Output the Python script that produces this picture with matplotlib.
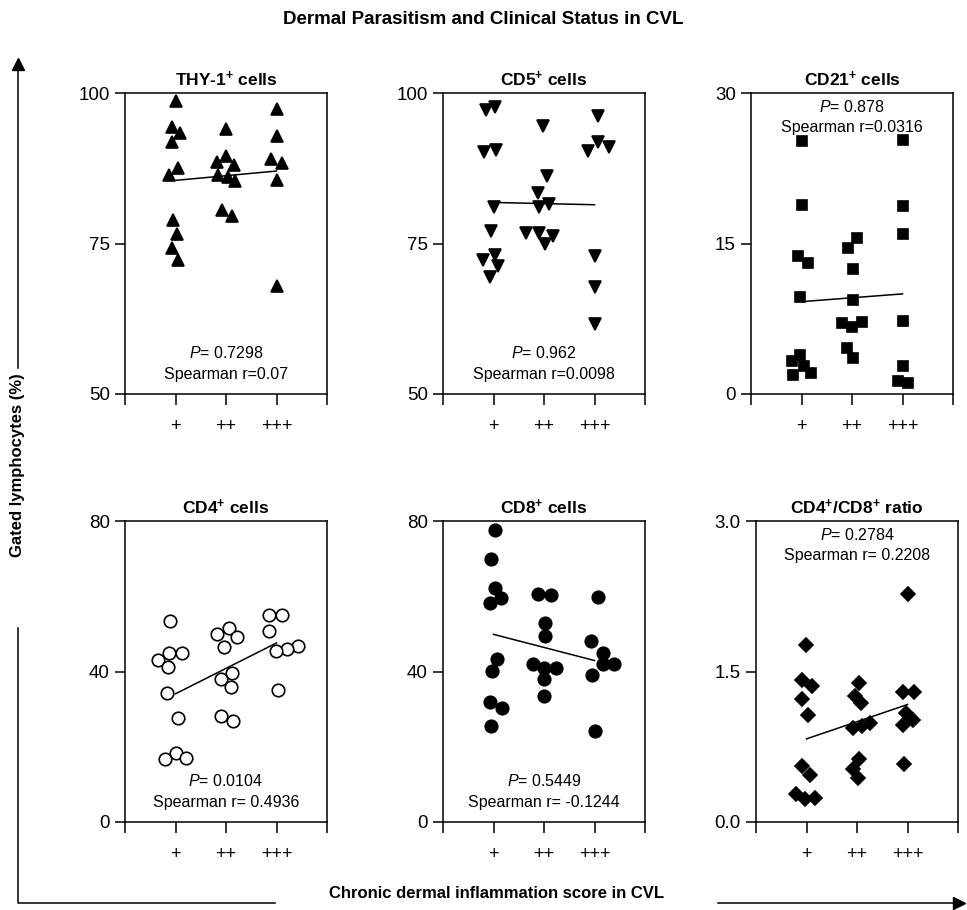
import numpy as np
import matplotlib
matplotlib.use("Agg")
import matplotlib.pyplot as plt
from matplotlib.lines import Line2D

plt.rcParams['font.family'] = ['Liberation Sans', 'DejaVu Sans']
plt.rcParams['mathtext.fontset'] = 'custom'
plt.rcParams['mathtext.rm'] = 'Liberation Sans'
plt.rcParams['mathtext.it'] = 'Liberation Sans:italic'
plt.rcParams['mathtext.bf'] = 'Liberation Sans:bold'

## data: category (1=+, 2=++, 3=+++), x position as drawn, value
score_labels = ['', '+', '++', '+++', '']

thy1_grp = [1]*10 + [2]*9 + [3]*6
thy1_x = [1.0, 0.93, 1.09, 0.93, 1.05, 0.87, 0.96, 1.03, 0.93, 1.04,
          2.0, 1.82, 2.0, 2.15, 1.84, 2.03, 2.17, 1.92, 2.11,
          3.0, 3.0, 2.89, 3.10, 3.0, 3.0]
thy1_y = [98.6, 94.4, 93.3, 91.9, 87.5, 86.4, 78.9, 76.6, 74.2, 72.2,
          94.1, 88.6, 89.5, 88.0, 86.4, 86.0, 85.3, 80.6, 79.5,
          97.4, 92.9, 89.1, 88.4, 85.6, 68.0]

cd5_grp = [1]*10 + [2]*9 + [3]*7
cd5_x = [0.85, 1.03, 0.82, 1.05, 1.0, 0.95, 1.02, 0.79, 1.09, 0.93,
         1.98, 2.05, 1.89, 1.91, 2.10, 1.64, 1.90, 2.18, 2.01,
         3.07, 3.07, 2.88, 3.29, 3.0, 3.0, 3.0]
cd5_y = [97.1, 97.6, 90.2, 90.5, 81.1, 77.0, 73.1, 72.3, 71.3, 69.5,
         94.6, 86.2, 83.4, 81.1, 81.5, 76.8, 76.7, 76.3, 75.0,
         96.1, 91.9, 90.3, 91.0, 73.0, 67.7, 61.6]

cd21_grp = [1]*10 + [2]*9 + [3]*7
cd21_x = [1.0, 1.0, 0.93, 1.12, 0.97, 0.97, 0.81, 1.05, 1.19, 0.83,
          2.09, 1.93, 2.01, 2.02, 1.81, 2.0, 2.19, 1.90, 2.02,
          3.0, 3.0, 3.0, 3.0, 3.0, 2.92, 3.11]
cd21_y = [25.2, 18.8, 13.8, 13.1, 9.7, 3.9, 3.3, 2.8, 2.1, 1.9,
          15.5, 14.6, 12.5, 9.4, 7.1, 6.7, 7.2, 4.6, 3.6,
          25.3, 18.7, 15.9, 7.3, 2.8, 1.3, 1.1]

cd4_grp = [1]*10 + [2]*9 + [3]*7
cd4_x = [0.89, 0.87, 1.13, 0.65, 0.85, 0.83, 1.04, 1.0, 0.79, 1.21,
         2.05, 1.83, 2.21, 1.97, 2.12, 1.90, 2.10, 1.90, 2.13,
         2.86, 3.11, 2.86, 3.43, 3.21, 2.99, 3.03]
cd4_y = [53.4, 45.0, 45.0, 43.0, 41.1, 34.3, 27.7, 18.4, 16.8, 17.1,
         51.6, 49.9, 49.2, 46.4, 39.5, 37.9, 35.8, 28.1, 26.9,
         55.1, 55.0, 50.7, 46.8, 46.0, 45.4, 35.2]

cd8_grp = [1]*10 + [2]*9 + [3]*7
cd8_x = [1.03, 0.95, 1.02, 1.15, 0.93, 1.06, 0.98, 0.94, 1.17, 0.95,
         1.89, 2.13, 2.01, 2.01, 1.78, 2.0, 2.23, 2.0, 2.0,
         3.07, 2.93, 3.17, 3.17, 3.39, 2.95, 3.01]
cd8_y = [77.7, 70.0, 62.1, 59.6, 58.1, 43.2, 40.2, 31.8, 30.2, 25.4,
         60.6, 60.2, 52.9, 49.4, 41.9, 41.0, 40.8, 38.0, 33.6,
         59.8, 48.0, 45.0, 42.0, 42.0, 39.0, 24.2]

ratio_grp = [1]*10 + [2]*9 + [3]*7
ratio_x = [0.99, 0.92, 1.10, 0.92, 1.02, 0.92, 1.07, 0.80, 0.97, 1.17,
           2.04, 1.97, 2.08, 2.26, 2.10, 1.93, 2.04, 1.92, 2.02,
           3.01, 2.92, 3.13, 2.97, 3.11, 2.91, 2.94]
ratio_y = [1.76, 1.42, 1.36, 1.23, 1.07, 0.56, 0.47, 0.28, 0.23, 0.24,
           1.39, 1.26, 1.19, 0.99, 0.96, 0.94, 0.63, 0.53, 0.44,
           2.27, 1.30, 1.30, 1.09, 1.02, 0.97, 0.58]

panels = [
    # title, group, x, y, marker, filled, ylim, yticks, fmt, stats, stats at top
    (r'THY-1$^{\mathbf{+}}$ cells', thy1_grp, thy1_x, thy1_y, '^', True,
     (50, 100), [50, 75, 100], '%d', ('0.7298', 'r=0.07'), False),
    (r'CD5$^{\mathbf{+}}$ cells', cd5_grp, cd5_x, cd5_y, 'v', True,
     (50, 100), [50, 75, 100], '%d', ('0.962', 'r=0.0098'), False),
    (r'CD21$^{\mathbf{+}}$ cells', cd21_grp, cd21_x, cd21_y, 's', True,
     (0, 30), [0, 15, 30], '%d', ('0.878', 'r=0.0316'), True),
    (r'CD4$^{\mathbf{+}}$ cells', cd4_grp, cd4_x, cd4_y, 'o', False,
     (0, 80), [0, 40, 80], '%d', ('0.0104', 'r= 0.4936'), False),
    (r'CD8$^{\mathbf{+}}$ cells', cd8_grp, cd8_x, cd8_y, 'o', True,
     (0, 80), [0, 40, 80], '%d', ('0.5449', 'r= -0.1244'), False),
    (r'CD4$^{\mathbf{+}}$/CD8$^{\mathbf{+}}$ ratio', ratio_grp, ratio_x, ratio_y, 'D', True,
     (0, 3), [0, 1.5, 3.0], '%.1f', ('0.2784', 'r= 0.2208'), True),
]

W, H = 967, 910
fig = plt.figure(figsize=(W / 100, H / 100), dpi=100)

lefts = [125, 443, 751, 125, 443, 756]
tops = [93, 93, 93, 521, 521, 521]
aw, ah = 202, 301
msize = {'^': 9, 'v': 9, 's': 7, 'o': 9, 'D': 7}

for i, (title, grp, xs, ys, mk, filled, ylim, yt, fmt, stats, top) in enumerate(panels):
    ax = fig.add_axes([lefts[i] / W, 1 - (tops[i] + ah) / H, aw / W, ah / H])
    ax.plot(xs, ys, linestyle='none', marker=mk, markersize=msize[mk],
            markerfacecolor='black' if filled else 'white',
            markeredgecolor='black', markeredgewidth=1.2)
    # linear fit across the three score groups
    k, b = np.polyfit(grp, ys, 1)
    gx = np.array([1, 3])
    ax.plot(gx, k * gx + b, color='black', lw=1.1)
    ax.set_xlim(0, 4)
    ax.set_ylim(*ylim)
    ax.set_xticks([0, 1, 2, 3, 4])
    ax.set_xticklabels(score_labels, fontsize=13)
    ax.set_yticks(yt)
    ax.set_yticklabels([fmt % v for v in yt], fontsize=13.5)
    ax.tick_params(direction='out', length=7, width=1.1, pad=4)
    ax.tick_params(axis='x', length=8, pad=9)
    for s in ax.spines.values():
        s.set_linewidth(1.1)
    ax.set_title(title, fontsize=12.5, fontweight='bold', pad=5)
    if top:
        y1, y2 = 0.955, 0.885
    else:
        y1, y2 = 0.135, 0.065
    ax.text(0.5, y1, r'$\it{P}$= ' + stats[0], transform=ax.transAxes,
            ha='center', va='center', fontsize=11.5)
    ax.text(0.5, y2, 'Spearman ' + stats[1], transform=ax.transAxes,
            ha='center', va='center', fontsize=11.5)

fig.text(0.5, 1 - 20 / H, 'Dermal Parasitism and Clinical Status in CVL',
         ha='center', va='center', fontsize=13.5, fontweight='bold')

## outer axis arrows
fig.add_artist(Line2D([18 / W, 18 / W], [1 - 70 / H, 1 - 368 / H],
                      color='black', lw=1.1))
fig.add_artist(Line2D([18 / W, 18 / W, 275 / W], [1 - 628 / H, 1 - 903 / H, 1 - 903 / H],
                      color='black', lw=1.1))
fig.add_artist(Line2D([718 / W, 955 / W], [1 - 903 / H, 1 - 903 / H],
                      color='black', lw=1.1))
fig.add_artist(Line2D([18 / W], [1 - 64 / H], marker='^', markersize=8,
                      color='black', linestyle='none'))
fig.add_artist(Line2D([959 / W], [1 - 903 / H], marker='>', markersize=8,
                      color='black', linestyle='none'))
fig.text(18 / W, 1 - 465 / H, 'Gated lymphocytes (%)', rotation=90,
         ha='center', va='center', fontsize=12, fontweight='bold')
fig.text(497 / W, 1 - 893 / H, 'Chronic dermal inflammation score in CVL',
         ha='center', va='center', fontsize=12, fontweight='bold')

fig.savefig('out.png', dpi=100)
